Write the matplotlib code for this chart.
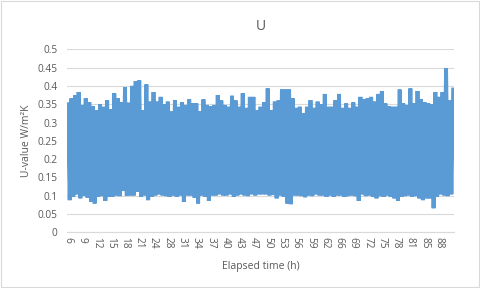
import matplotlib.pyplot as plt
from matplotlib.patches import Rectangle

# upper envelope (peaks) and lower envelope (troughs), read left to right
peaks = [0.350, 0.366, 0.375, 0.383, 0.348, 0.366, 0.355, 0.345, 0.334, 0.350,
         0.343, 0.361, 0.336, 0.380, 0.366, 0.355, 0.396, 0.354, 0.400, 0.413,
         0.415, 0.334, 0.404, 0.357, 0.383, 0.357, 0.370, 0.350, 0.357, 0.330,
         0.361, 0.343, 0.355, 0.348, 0.363, 0.352, 0.352, 0.330, 0.363, 0.348,
         0.345, 0.348, 0.375, 0.360, 0.348, 0.343, 0.373, 0.360, 0.343, 0.380,
         0.340, 0.370, 0.370, 0.334, 0.343, 0.355, 0.393, 0.334, 0.357, 0.360,
         0.390, 0.390, 0.390, 0.366, 0.340, 0.343, 0.325, 0.343, 0.361, 0.340,
         0.357, 0.350, 0.378, 0.343, 0.343, 0.361, 0.378, 0.340, 0.352, 0.340,
         0.355, 0.343, 0.370, 0.363, 0.366, 0.370, 0.357, 0.378, 0.386, 0.352,
         0.345, 0.343, 0.343, 0.390, 0.352, 0.348, 0.393, 0.352, 0.386, 0.363,
         0.355, 0.352, 0.350, 0.383, 0.370, 0.383, 0.448, 0.360, 0.390]
troughs = [0.088, 0.097, 0.104, 0.093, 0.100, 0.095, 0.084, 0.079, 0.097, 0.099,
           0.086, 0.097, 0.097, 0.101, 0.099, 0.113, 0.100, 0.101, 0.101, 0.111,
           0.097, 0.101, 0.088, 0.097, 0.101, 0.104, 0.101, 0.099, 0.097, 0.101,
           0.097, 0.101, 0.084, 0.101, 0.101, 0.095, 0.079, 0.101, 0.097, 0.086,
           0.101, 0.101, 0.104, 0.101, 0.101, 0.104, 0.097, 0.101, 0.104, 0.101,
           0.099, 0.104, 0.101, 0.104, 0.104, 0.104, 0.101, 0.102, 0.093, 0.101,
           0.097, 0.079, 0.077, 0.101, 0.101, 0.099, 0.096, 0.101, 0.099, 0.104,
           0.101, 0.101, 0.097, 0.101, 0.097, 0.101, 0.101, 0.097, 0.099, 0.101,
           0.099, 0.086, 0.104, 0.099, 0.101, 0.097, 0.093, 0.099, 0.097, 0.101,
           0.097, 0.093, 0.086, 0.097, 0.099, 0.101, 0.097, 0.099, 0.093, 0.088,
           0.093, 0.093, 0.066, 0.097, 0.104, 0.101, 0.099, 0.104]

time_labels = ['6', '9', '12', '15', '18', '21', '24', '28', '31', '34', '37', '40',
               '43', '47', '50', '53', '56', '59', '62', '66', '69', '72', '75', '78',
               '81', '85', '88']
label_every = 8

u_values = []
for i in range(len(peaks)):
    u_values.append(peaks[i])
    if i < len(troughs):
        u_values.append(troughs[i])

plt.rcParams['font.family'] = ['Open Sans', 'DejaVu Sans']
grey = '#595959'

fig = plt.figure(figsize=(4.8, 2.88), dpi=100)
ax = fig.add_axes([0.1396, 0.193, 0.8064, 0.636])
fig.patches.append(Rectangle((0.002, 0.003), 0.996, 0.994, transform=fig.transFigure,
                             fill=False, edgecolor='#D9D9D9', linewidth=0.8))

ax.plot(range(len(u_values)), u_values, color='#5B9BD5', linewidth=2.8,
        solid_joinstyle='miter')

ax.set_xlim(-0.5, len(u_values) - 0.5)
ax.set_ylim(0, 0.5)
ax.set_yticks([0, 0.05, 0.1, 0.15, 0.2, 0.25, 0.3, 0.35, 0.4, 0.45, 0.5])
ax.set_yticklabels(['0', '0.05', '0.1', '0.15', '0.2', '0.25', '0.3', '0.35',
                    '0.4', '0.45', '0.5'])
ax.set_xticks(range(0, len(time_labels) * label_every, label_every))
ax.set_xticklabels(time_labels, rotation=270)

ax.yaxis.grid(color='#D9D9D9', linewidth=0.8)
ax.set_axisbelow(True)
for side in ['top', 'right', 'left']:
    ax.spines[side].set_visible(False)
ax.spines['bottom'].set_color('#D9D9D9')
ax.tick_params(axis='both', length=0, colors=grey, labelsize=7.3)
ax.tick_params(axis='y', pad=7)
ax.tick_params(axis='x', pad=3)

ax.set_title('U', color=grey, fontsize=10, pad=14)
ax.set_ylabel('U-value W/m²K', color=grey, fontsize=7.5, labelpad=4)
ax.set_xlabel('Elapsed time (h)', color=grey, fontsize=7.5, labelpad=9)

fig.savefig('out.png', dpi=100)
